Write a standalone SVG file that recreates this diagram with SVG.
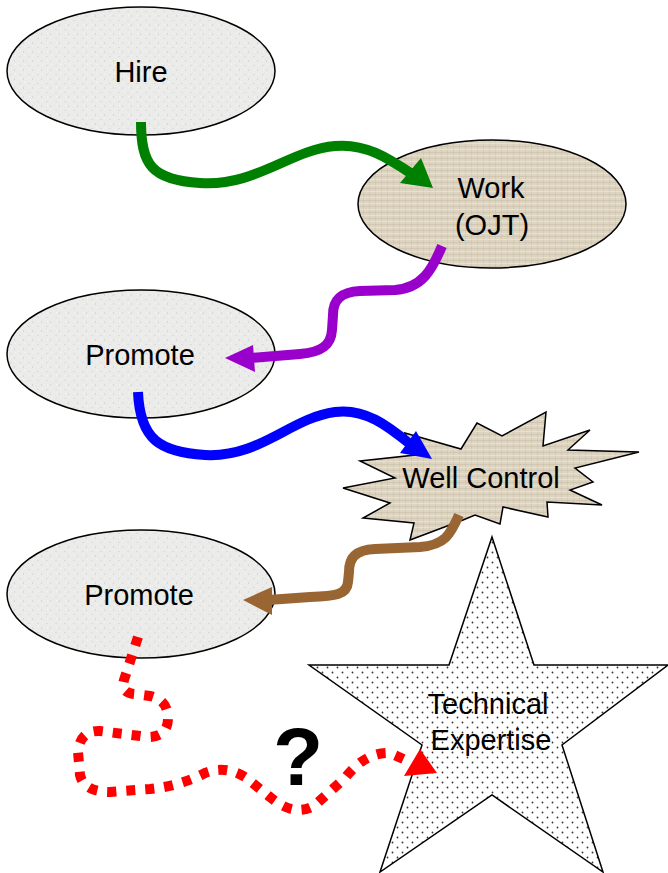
<svg xmlns="http://www.w3.org/2000/svg" width="668" height="873" viewBox="0 0 668 873">
<defs>
  <pattern id="granite" width="9" height="9" patternUnits="userSpaceOnUse">
    <rect width="9" height="9" fill="#ebebea"/>
    <rect x="1" y="2" width="2" height="1" fill="#dcdcdc"/>
    <rect x="5" y="6" width="1" height="2" fill="#d8d8d8"/>
    <rect x="6" y="1" width="1" height="1" fill="#f7f7f7"/>
    <rect x="2" y="6" width="1" height="1" fill="#f5f5f5"/>
  </pattern>
  <pattern id="linen" width="6" height="6" patternUnits="userSpaceOnUse">
    <rect width="6" height="6" fill="#ddd4c2"/>
    <rect x="0" y="2" width="6" height="1" fill="#cdc2ab" opacity="0.7"/>
    <rect x="3" y="0" width="1" height="6" fill="#cdc2ab" opacity="0.6"/>
    <rect x="0" y="5" width="6" height="1" fill="#ebe4d6" opacity="0.7"/>
  </pattern>
  <pattern id="dots" width="10" height="10" patternUnits="userSpaceOnUse">
    <rect width="10" height="10" fill="#ffffff"/>
    <circle cx="2.5" cy="2.5" r="0.9" fill="#333"/>
    <circle cx="7.5" cy="7.5" r="0.9" fill="#333"/>
  </pattern>
</defs>
<style>
  .shape { stroke: #000; stroke-width: 1.5; }
  .gray { fill: url(#granite); }
  .tan { fill: url(#linen); }
  .lbl { font-family: "Liberation Sans", Arial, sans-serif; font-size: 29px; fill: #000; text-anchor: middle; }
  .wire { fill: none; stroke-width: 10; stroke-linecap: butt; stroke-linejoin: round; }
</style>

<g id="hire">
  <ellipse class="shape gray" cx="141" cy="71" rx="134" ry="64"/>
  <text class="lbl" x="141" y="82">Hire</text>
</g>
<g id="work">
  <ellipse class="shape tan" cx="492" cy="204" rx="134" ry="64"/>
  <text class="lbl" x="491" y="198">Work</text>
  <text class="lbl" x="492" y="235">(OJT)</text>
</g>
<g id="promote1">
  <ellipse class="shape gray" cx="141" cy="354" rx="134" ry="64"/>
  <text class="lbl" x="140" y="365">Promote</text>
</g>
<g id="wellcontrol">
  <polygon class="shape tan" points="405,433 461,449 477,423 502,436 546,412 543,446 590,430 568,450 639,452 575,468 593,482 570,490 602,505 547,502 548,517 503,507 500,524 475,515 463,520 410,540 414,523 363,518 390,503 343,488 395,478 360,461 415,455"/>
  <text class="lbl" x="481" y="488">Well Control</text>
</g>
<g id="promote2">
  <ellipse class="shape gray" cx="141" cy="594" rx="134" ry="64"/>
  <text class="lbl" x="139" y="605">Promote</text>
</g>
<g id="expertise">
  <polygon class="shape" fill="url(#dots)" points="492,537 534,665 668,665 562,745 603,872 492,795 380,872 422,745 309,665 449,665"/>
  <text class="lbl" x="488" y="714">Technical</text>
  <text class="lbl" x="491" y="750">Expertise</text>
</g>

<g id="connectors">
  <path class="wire" stroke="#008000" d="M141,122 C141,165 152,180 200,183 C255,187 290,150 335,146 C365,143 388,158 412,174"/>
  <polygon fill="#008000" points="433,188 400,183 421,158"/>

  <path class="wire" stroke="#9900cc" d="M442,246 C432,270 422,288 395,290 L360,291 C340,292 333,300 333,315 L332,330 C331,345 322,352 300,354 L250,358"/>
  <polygon fill="#9900cc" points="225,358 253,345 255,372"/>

  <path class="wire" stroke="#0000ff" d="M138,392 C140,440 160,452 205,455 C260,458 290,418 335,412 C365,408 388,426 410,444"/>
  <polygon fill="#0000ff" points="432,459 400,453 416,431"/>

  <path class="wire" stroke="#996633" d="M459,515 C450,535 445,545 420,547 L375,549 C355,550 349,558 349,572 L348,582 C347,595 335,596 310,597 L268,600"/>
  <polygon fill="#996633" points="243,600 272,587 272,615"/>

  <path class="wire" stroke="#ff0000" stroke-width="8" stroke-dasharray="9 10" d="M138,637 L124,680 Q120,693 135,694 L150,696 Q168,700 168,718 Q168,737 148,737 L100,731 Q80,730 78,752 L80,775 Q84,792 110,792 L150,789 Q180,786 205,773 Q225,765 245,777 L270,797 Q295,818 315,805 L345,778 Q365,752 390,753 L410,762"/>
  <polygon fill="#ff0000" points="437,773 404,776 420,749"/>
</g>

<text x="298" y="785" font-family="Liberation Sans, Arial, sans-serif" font-size="82" font-weight="bold" text-anchor="middle" fill="#000">?</text>
</svg>
